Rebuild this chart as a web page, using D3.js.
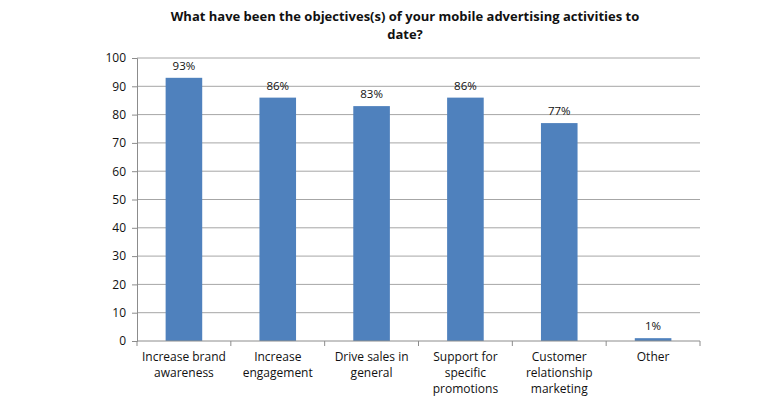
<!DOCTYPE html>
<html>
<head>
<meta charset="utf-8">
<script src="https://cdn.jsdelivr.net/npm/d3@7"></script>
<style>
  body { margin: 0; background: #fff; }
  text { font-family: "Open Sans", "Liberation Sans", sans-serif; fill: #111; }
</style>
</head>
<body>
<div id="chart"></div>
<script>
const categories = [
  ['Increase brand', 'awareness'],
  ['Increase', 'engagement'],
  ['Drive sales in', 'general'],
  ['Support for', 'specific', 'promotions'],
  ['Customer', 'relationship', 'marketing'],
  ['Other']
];
const values = [93, 86, 83, 86, 77, 1];
const yTicks = [0, 10, 20, 30, 40, 50, 60, 70, 80, 90, 100];
const titleLines = ['What have been the objectives(s) of your mobile advertising activities to', 'date?'];

const width = 760, height = 397;
const margin = { top: 58, right: 60, bottom: 56, left: 137 };

const svg = d3.select('#chart').append('svg')
  .attr('width', width)
  .attr('height', height);

const x = d3.scaleBand()
  .domain(d3.range(values.length))
  .range([margin.left, width - margin.right])
  .paddingInner(0.61)
  .paddingOuter(0.305);

const y = d3.scaleLinear()
  .domain([0, 100])
  .range([height - margin.bottom, margin.top]);

// gridlines
svg.append('g')
  .selectAll('line')
  .data(yTicks.slice(1))
  .join('line')
  .attr('x1', margin.left)
  .attr('x2', width - margin.right)
  .attr('y1', d => y(d))
  .attr('y2', d => y(d))
  .attr('stroke', '#a6a6a6')
  .attr('stroke-width', 1);

// y axis
const yAxis = svg.append('g')
  .attr('transform', `translate(${margin.left},0)`)
  .call(d3.axisLeft(y).tickValues(yTicks).tickSize(5).tickPadding(6));
yAxis.select('.domain').attr('stroke', '#8c8c8c');
yAxis.selectAll('.tick line').attr('stroke', '#8c8c8c');
yAxis.selectAll('.tick text').style('font-size', '12px').attr('fill', '#111');

// bars
svg.append('g')
  .selectAll('rect')
  .data(values)
  .join('rect')
  .attr('x', (d, i) => x(i))
  .attr('y', d => y(d))
  .attr('width', x.bandwidth())
  .attr('height', d => y(0) - y(d))
  .attr('fill', '#4f81bd');

// value labels
svg.append('g')
  .selectAll('text')
  .data(values)
  .join('text')
  .attr('x', (d, i) => x(i) + x.bandwidth() / 2)
  .attr('y', d => y(d) - 8)
  .attr('text-anchor', 'middle')
  .style('font-size', '11.5px')
  .text(d => d + '%');

// x axis line and boundary ticks
const step = (width - margin.right - margin.left) / values.length;
svg.append('line')
  .attr('x1', margin.left).attr('x2', width - margin.right)
  .attr('y1', y(0)).attr('y2', y(0))
  .attr('stroke', '#8c8c8c');
svg.append('g')
  .selectAll('line')
  .data(d3.range(values.length + 1))
  .join('line')
  .attr('x1', i => margin.left + i * step)
  .attr('x2', i => margin.left + i * step)
  .attr('y1', y(0))
  .attr('y2', y(0) + 5)
  .attr('stroke', '#8c8c8c');

// category labels
const cat = svg.append('g')
  .selectAll('text')
  .data(categories)
  .join('text')
  .attr('text-anchor', 'middle')
  .style('font-size', '12px')
  .attr('transform', (d, i) => `translate(${x(i) + x.bandwidth() / 2},${y(0) + 20})`);
cat.selectAll('tspan')
  .data(d => d)
  .join('tspan')
  .attr('x', 0)
  .attr('dy', (d, i) => i === 0 ? 0 : 16)
  .text(d => d);

// title
svg.append('text')
  .attr('text-anchor', 'middle')
  .attr('transform', 'translate(405,21)')
  .style('font-size', '13px')
  .style('font-weight', 'bold')
  .selectAll('tspan')
  .data(titleLines)
  .join('tspan')
  .attr('x', 0)
  .attr('dy', (d, i) => i === 0 ? 0 : 18)
  .text(d => d);
</script>
</body>
</html>
